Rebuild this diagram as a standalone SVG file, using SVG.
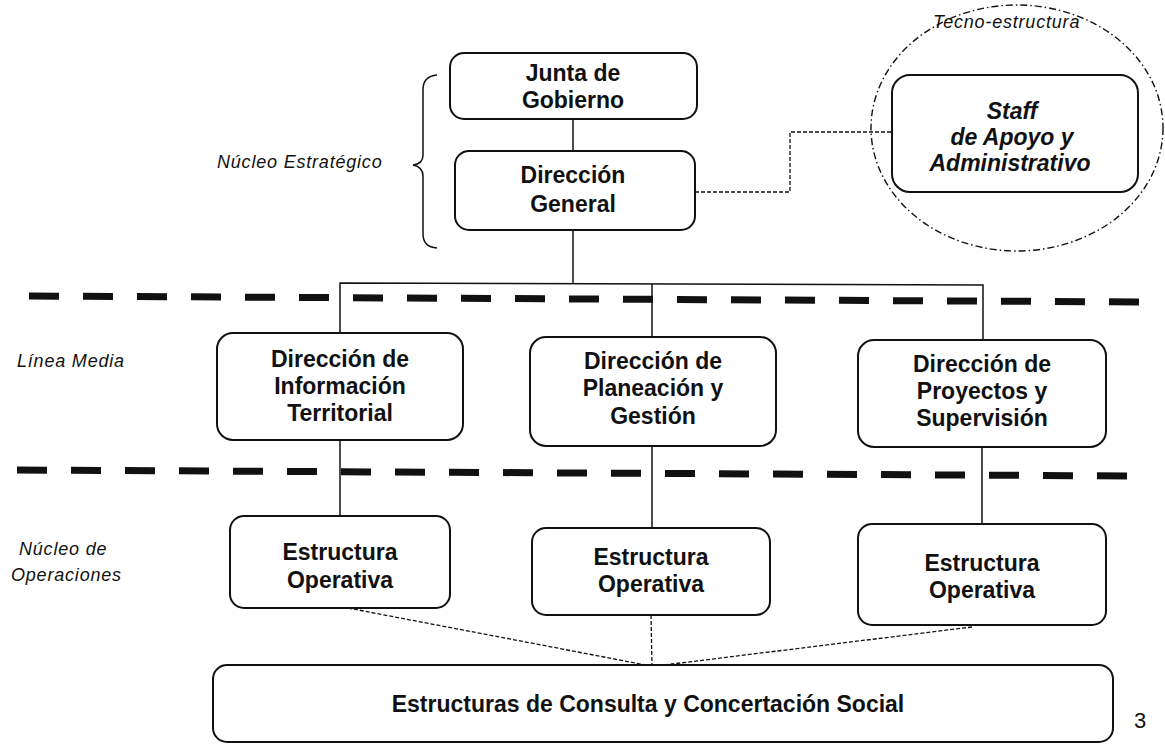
<svg xmlns="http://www.w3.org/2000/svg" width="1165" height="747" viewBox="0 0 1165 747">
<style>
.box{fill:#fff;stroke:#111;stroke-width:2}
.t{font-family:"Liberation Sans",Arial,sans-serif;font-weight:bold;font-size:23px;fill:#111;text-anchor:middle}
.ti{font-family:"Liberation Sans",Arial,sans-serif;font-weight:bold;font-style:italic;font-size:23px;fill:#111;text-anchor:middle}
.lab{font-family:"Liberation Sans",Arial,sans-serif;font-style:italic;font-size:18px;fill:#111;letter-spacing:0.8px}
.solid{fill:none;stroke:#111;stroke-width:1.5}
.dot{fill:none;stroke:#111;stroke-width:1.3;stroke-dasharray:4 2}
.thick{fill:none;stroke:#111;stroke-width:7;stroke-dasharray:30 24}
</style>
<rect width="1165" height="747" fill="#fff"/>

<g id="separators">
<line class="thick" x1="29" y1="296" x2="1148" y2="302"/>
<line class="thick" x1="17" y1="470" x2="1140" y2="476"/>
</g>

<g id="labels">
<text class="lab" x="217" y="168">Núcleo Estratégico</text>
<path class="solid" d="M437,75 Q423,76 423,90 L423,155 Q423,164 413,165 Q423,167 423,176 L423,234 Q423,247 437,248"/>
<text class="lab" x="17" y="367">Línea Media</text>
<text class="lab" x="19" y="555">Núcleo de</text>
<text class="lab" x="11" y="581">Operaciones</text>
<text class="lab" x="933" y="28">Tecno-estructura</text>
<text x="1140" y="728" font-family="Liberation Sans,Arial,sans-serif" font-size="22" fill="#111" text-anchor="middle">3</text>
</g>

<g id="connectors">
<line class="solid" x1="573" y1="119" x2="573" y2="151"/>
<line class="solid" x1="573" y1="230" x2="573" y2="283"/>
<polyline class="solid" points="340,333 340,283 983,285 983,340"/>
<line class="solid" x1="652" y1="284" x2="652" y2="337"/>
<line class="solid" x1="340" y1="440" x2="340" y2="516"/>
<line class="solid" x1="652" y1="446" x2="652" y2="528"/>
<line class="solid" x1="982" y1="447" x2="982" y2="524"/>
<polyline class="dot" points="695,192 790,192 790,132 892,132"/>
<line class="dot" x1="348" y1="608" x2="651" y2="666"/>
<line class="dot" x1="651" y1="615" x2="652" y2="666"/>
<line class="dot" x1="972" y1="627" x2="656" y2="666"/>
</g>

<g id="tecno">
<ellipse cx="1017" cy="128" rx="146" ry="123" fill="none" stroke="#111" stroke-width="1.4" stroke-dasharray="7 3 1.5 3"/>
</g>

<g id="junta">
<rect class="box" x="450" y="53" width="247" height="66" rx="14"/>
<text class="t" x="573" y="81">Junta de</text>
<text class="t" x="573" y="108">Gobierno</text>
</g>
<g id="direccion-general">
<rect class="box" x="455" y="151" width="240" height="79" rx="14"/>
<text class="t" x="573" y="183">Dirección</text>
<text class="t" x="573" y="212">General</text>
</g>
<g id="staff">
<rect class="box" x="892" y="75" width="246" height="117" rx="18"/>
<text class="ti" x="1012" y="119">Staff</text>
<text class="ti" x="1012" y="145">de Apoyo y</text>
<text class="ti" x="1010" y="171">Administrativo</text>
</g>
<g id="dir-informacion">
<rect class="box" x="217" y="333" width="246" height="107" rx="16"/>
<text class="t" x="340" y="367">Dirección de</text>
<text class="t" x="340" y="394">Información</text>
<text class="t" x="340" y="421">Territorial</text>
</g>
<g id="dir-planeacion">
<rect class="box" x="530" y="337" width="246" height="109" rx="16"/>
<text class="t" x="653" y="369">Dirección de</text>
<text class="t" x="653" y="396">Planeación y</text>
<text class="t" x="653" y="424">Gestión</text>
</g>
<g id="dir-proyectos">
<rect class="box" x="858" y="340" width="248" height="107" rx="16"/>
<text class="t" x="982" y="372">Dirección de</text>
<text class="t" x="982" y="399">Proyectos y</text>
<text class="t" x="982" y="426">Supervisión</text>
</g>
<g id="op1">
<rect class="box" x="230" y="516" width="220" height="92" rx="14"/>
<text class="t" x="340" y="560">Estructura</text>
<text class="t" x="340" y="588">Operativa</text>
</g>
<g id="op2">
<rect class="box" x="532" y="528" width="238" height="87" rx="14"/>
<text class="t" x="651" y="565">Estructura</text>
<text class="t" x="651" y="592">Operativa</text>
</g>
<g id="op3">
<rect class="box" x="858" y="524" width="248" height="101" rx="14"/>
<text class="t" x="982" y="571">Estructura</text>
<text class="t" x="982" y="598">Operativa</text>
</g>
<g id="consulta">
<rect class="box" x="213" y="665" width="900" height="77" rx="14"/>
<text class="t" x="648" y="712">Estructuras de Consulta y Concertación Social</text>
</g>
</svg>
